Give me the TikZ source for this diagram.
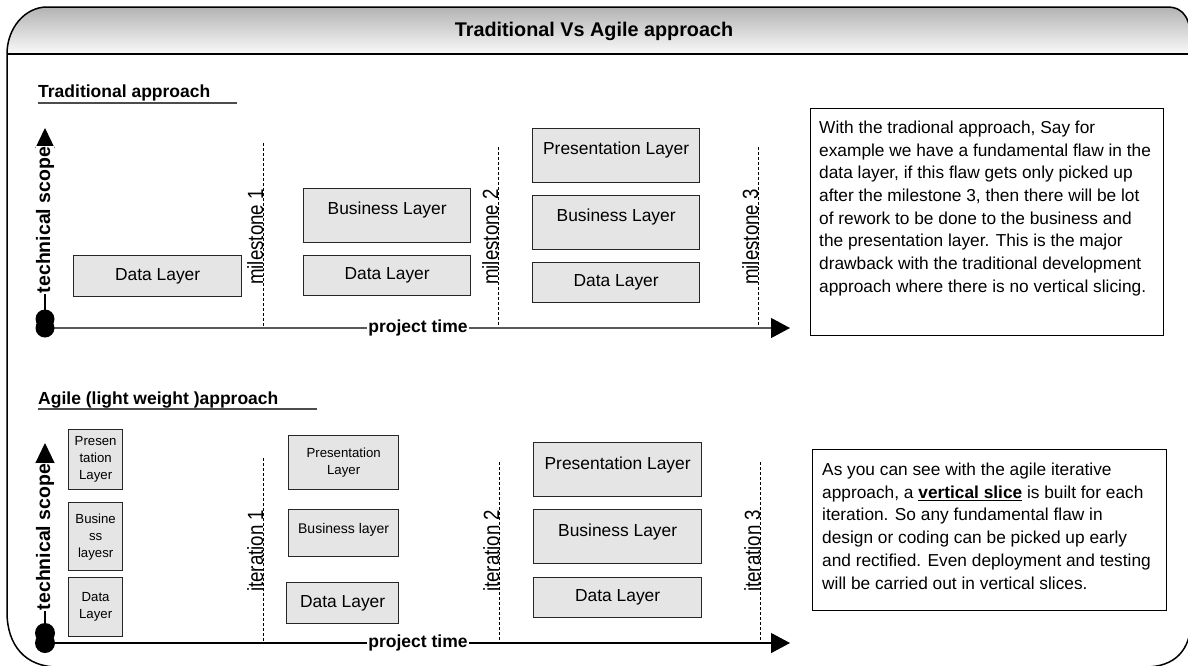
\documentclass[tikz,border=0pt]{standalone}
\usepackage{fontspec}
\setmainfont{Liberation Sans}
\usepackage{graphicx}
\usetikzlibrary{arrows.meta, positioning}

\newcommand{\fs}[2]{\fontsize{#1}{#2}\selectfont}
\newcommand{\narrow}[1]{\scalebox{0.85}[1]{#1}}

\begin{document}
\begin{tikzpicture}[x=1pt, y=-1pt,
    box/.style={draw=black!85, line width=1.3pt, fill=black!10, anchor=north west,
                inner sep=0pt, align=center, font=\fs{17.4}{20}},
    smallbox/.style={box, font=\fs{13.2}{17}},
    uptext/.style={text depth=#1},
    axis/.style={line width=1.2pt, -{Triangle[length=19pt, width=20pt, color=black]}},
    scopeaxis/.style={line width=1.2pt, -{Triangle[length=20pt, width=19pt]}},
    axislabel/.style={fill=white, inner xsep=1pt, inner ysep=0pt, font=\bfseries\fs{17.5}{20}},
    scopelabel/.style={axislabel, rotate=90, font=\bfseries\fs{19.5}{20}},
    divider/.style={line width=1pt, dash pattern=on 3pt off 2pt},
    steplabel/.style={rotate=90, anchor=base west, inner sep=0pt, font=\fs{22}{22}},
    heading/.style={anchor=base west, inner sep=0pt, font=\bfseries\fs{17.5}{20}},
    notebox/.style={draw, line width=1.3pt, anchor=north west, inner sep=0pt},
    notetext/.style={anchor=north west, inner sep=0pt, align=left, font=\fs{17.3}{22.7}}
  ]
  \useasboundingbox (0,0) rectangle (1188,665);

  % frame and title band
  \shade[top color=black!30, bottom color=black!2]
    (7,54) .. controls (7,28) and (25,7) .. (47,7) -- (1167,7)
    .. controls (1185,7) and (1191,20) .. (1191,45) -- (1191,54) -- cycle;
  \draw[line width=1.5pt]
    (7,54) -- (7,612) .. controls (7,645) and (25,667) .. (58,667) -- (1145,667)
    .. controls (1175,667) and (1191,650) .. (1191,620) -- (1191,45)
    .. controls (1191,20) and (1185,7) .. (1167,7) -- (47,7)
    .. controls (25,7) and (7,28) .. (7,54) -- cycle;
  \draw[line width=1.5pt] (7,54) -- (1191,54);
  \node[font=\bfseries\fs{19.8}{20}] (title) at (594,31) {Traditional Vs Agile approach};

  % traditional approach
  \node[heading] (tradhead) at (38,97) {Traditional approach};
  \draw[black!70, line width=1.2pt] (38,103) -- (237,103);

  \coordinate (torigin) at (45,328);
  \coordinate (tscopeend) at (45,128);
  \coordinate (ttimeend) at (790,328);
  \foreach \x/\top/\n in {263/143/1, 498/147/2, 758/147/3} {
    \draw[divider] (\x,\top) -- (\x,328);
    \node[steplabel] (ms\n) at (\x,285) {\narrow{milestone \n}};
  }
  \draw[axis, draw=black!65] (torigin) -- (ttimeend);
  \draw[scopeaxis] (torigin) -- (tscopeend);
  \fill (45,319) circle[radius=9.5pt];
  \fill (torigin) circle[radius=9.5pt];
  \node[scopelabel] (tscope) at (45,220) {technical scope};
  \node[axislabel] (ttime) at (418,328) {project time};

  \node[box, minimum width=168, minimum height=41] (tdata1) at (73,255) {Data Layer};
  \node[box, uptext=14pt, minimum width=167, minimum height=54] (tbus2) at (303,188) {Business Layer};
  \node[box, minimum width=167, minimum height=40] (tdata2) at (303,255) {Data Layer};
  \node[box, uptext=14pt, minimum width=167, minimum height=54] (tpres3) at (532,128) {Presentation Layer};
  \node[box, uptext=14pt, minimum width=167, minimum height=54] (tbus3) at (532,195) {Business Layer};
  \node[box, minimum width=167, minimum height=40] (tdata3) at (532,262) {Data Layer};

  \node[notebox, minimum width=353, minimum height=227] (tradbox) at (810,108) {};
  \node[notetext] (tradtext) at ([xshift=9pt, yshift=-12.7pt]tradbox.north west)
    {With the tradional approach, Say for\\
     example we have a fundamental flaw in the\\
     data layer, if this flaw gets only picked up\\
     after the milestone 3, then there will be lot\\
     of rework to be done to the business and\\
     the presentation layer. This is the major\\
     drawback with the traditional development\\
     approach where there is no vertical slicing.};

  % agile approach
  \node[heading] (agilehead) at (38,404) {Agile (light weight )approach};
  \draw[black!70, line width=1.2pt] (38,409) -- (317,409);

  \coordinate (aorigin) at (45,643);
  \coordinate (ascopeend) at (45,443);
  \coordinate (atimeend) at (790,643);
  \foreach \x/\top/\n in {263/458/1, 499/462/2, 760/462/3} {
    \draw[divider] (\x,\top) -- (\x,643);
    \node[steplabel] (it\n) at (\x,592) {\narrow{iteration \n}};
  }
  \draw[axis] (aorigin) -- (atimeend);
  \draw[scopeaxis] (aorigin) -- (ascopeend);
  \fill (45,633) circle[radius=10pt];
  \fill (aorigin) circle[radius=10pt];
  \node[scopelabel] (ascope) at (45,537) {technical scope};
  \node[axislabel] (atime) at (418,643) {project time};

  \node[smallbox, minimum width=54, minimum height=60] (apres1) at (68,429) {Presen\\tation\\Layer};
  \node[smallbox, minimum width=54, minimum height=68] (abus1) at (68,502) {Busine\\ss\\layesr};
  \node[smallbox, minimum width=54, minimum height=59] (adata1) at (68,577) {Data\\Layer};
  \node[smallbox, minimum width=110, minimum height=54] (apres2) at (288,435) {Presentation\\Layer};
  \node[smallbox, uptext=10pt, font=\fs{14}{17}, minimum width=110, minimum height=47] (abus2) at (288,509) {Business layer};
  \node[box, minimum width=112, minimum height=41] (adata2) at (286,582) {Data Layer};
  \node[box, uptext=12pt, minimum width=168, minimum height=54] (apres3) at (533,442) {Presentation Layer};
  \node[box, uptext=12pt, minimum width=168, minimum height=54] (abus3) at (533,509) {Business Layer};
  \node[box, minimum width=168, minimum height=40] (adata3) at (533,577) {Data Layer};

  \node[notebox, minimum width=354, minimum height=161] (agilebox) at (812,449) {};
  \node[notetext] (agiletext) at ([xshift=10pt, yshift=-13.8pt]agilebox.north west)
    {As you can see with the agile iterative\\
     approach, a \underline{\textbf{vertical slice}} is built for each\\
     iteration. So any fundamental flaw in\\
     design or coding can be picked up early\\
     and rectified. Even deployment and testing\\
     will be carried out in vertical slices.};
\end{tikzpicture}
\end{document}
